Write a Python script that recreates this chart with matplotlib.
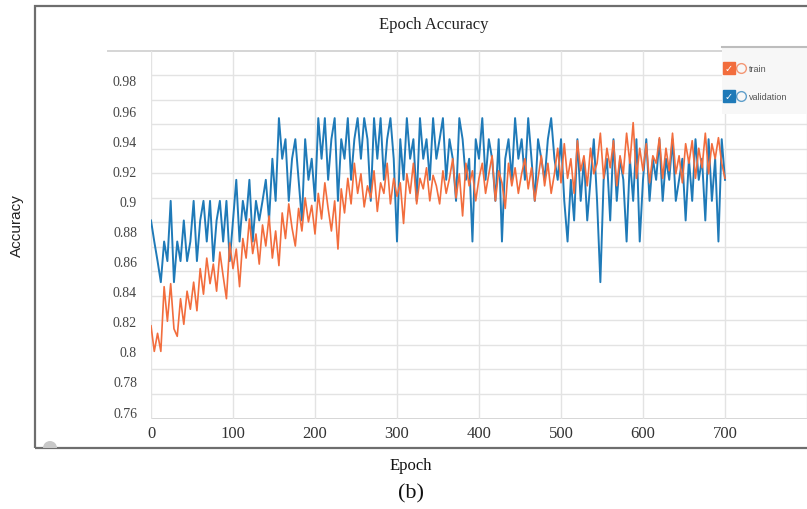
import numpy as np
import matplotlib
matplotlib.use('Agg')
import matplotlib.pyplot as plt
from matplotlib.patches import Rectangle, Wedge
from matplotlib.lines import Line2D
from matplotlib.transforms import IdentityTransform

epochs = np.arange(0, 701, 4)

validation = [
    0.887, 0.873, 0.860, 0.846, 0.873, 0.860, 0.900, 0.846, 0.873, 0.860, 0.887, 0.860, 0.873,
    0.900, 0.860, 0.887, 0.900, 0.873, 0.900, 0.860, 0.887, 0.900, 0.873, 0.900, 0.860, 0.887,
    0.914, 0.873, 0.900, 0.887, 0.914, 0.873, 0.900, 0.887, 0.900, 0.914, 0.887, 0.928, 0.900,
    0.955, 0.928, 0.941, 0.900, 0.928, 0.941, 0.914, 0.887, 0.941, 0.914, 0.928, 0.900,
    0.955, 0.928, 0.955, 0.914, 0.941, 0.955, 0.900, 0.941, 0.928, 0.955, 0.914, 0.941,
    0.955, 0.928, 0.955, 0.941, 0.900, 0.955, 0.928, 0.955, 0.914, 0.941, 0.955, 0.928, 0.873,
    0.941, 0.914, 0.955, 0.928, 0.941, 0.900, 0.955, 0.928, 0.941, 0.914, 0.955, 0.928,
    0.941, 0.955, 0.914, 0.941, 0.928, 0.900, 0.955, 0.941, 0.914, 0.928, 0.873, 0.941, 0.928,
    0.955, 0.914, 0.941, 0.928, 0.900, 0.941, 0.873, 0.928, 0.941, 0.914, 0.955, 0.928,
    0.941, 0.914, 0.955, 0.928, 0.900, 0.941, 0.928, 0.914, 0.941, 0.955, 0.928, 0.914, 0.941,
    0.900, 0.873, 0.914, 0.887, 0.941, 0.900, 0.928, 0.887, 0.914, 0.941, 0.900, 0.846,
    0.914, 0.928, 0.887, 0.941, 0.900, 0.928, 0.914, 0.873, 0.928, 0.900, 0.941, 0.873, 0.914,
    0.941, 0.900, 0.928, 0.914, 0.941, 0.900, 0.928, 0.914, 0.941, 0.900, 0.914, 0.928, 0.887,
    0.928, 0.900, 0.941, 0.914, 0.928, 0.887, 0.941, 0.900, 0.928, 0.873, 0.941, 0.914,
]

train = [
    0.817, 0.800, 0.812, 0.800, 0.843, 0.820, 0.845, 0.815, 0.810, 0.835, 0.818, 0.840, 0.828,
    0.846, 0.827, 0.855, 0.838, 0.862, 0.845, 0.858, 0.840, 0.866, 0.850, 0.835, 0.872, 0.855,
    0.868, 0.843, 0.875, 0.862, 0.888, 0.865, 0.878, 0.858, 0.884, 0.870, 0.890, 0.862, 0.880,
    0.857, 0.892, 0.875, 0.898, 0.882, 0.870, 0.895, 0.880, 0.902, 0.886, 0.897, 0.878,
    0.905, 0.888, 0.912, 0.895, 0.880, 0.900, 0.868, 0.908, 0.892, 0.915, 0.898, 0.925,
    0.905, 0.918, 0.896, 0.910, 0.902, 0.920, 0.893, 0.912, 0.905, 0.925, 0.898, 0.915, 0.903,
    0.912, 0.885, 0.918, 0.905, 0.925, 0.898, 0.915, 0.908, 0.922, 0.900, 0.917, 0.910,
    0.898, 0.920, 0.905, 0.915, 0.928, 0.902, 0.918, 0.890, 0.925, 0.910, 0.920, 0.900, 0.915,
    0.925, 0.905, 0.918, 0.930, 0.900, 0.920, 0.912, 0.895, 0.925, 0.910, 0.922, 0.905,
    0.918, 0.928, 0.908, 0.922, 0.900, 0.915, 0.930, 0.910, 0.925, 0.905, 0.918, 0.935, 0.912,
    0.938, 0.915, 0.928, 0.905, 0.940, 0.920, 0.930, 0.910, 0.935, 0.918, 0.925, 0.945,
    0.915, 0.935, 0.922, 0.940, 0.910, 0.930, 0.918, 0.945, 0.925, 0.952, 0.915, 0.935, 0.920,
    0.938, 0.912, 0.930, 0.925, 0.942, 0.915, 0.935, 0.920, 0.945, 0.918, 0.930, 0.912, 0.938,
    0.925, 0.940, 0.915, 0.935, 0.922, 0.945, 0.918, 0.938, 0.928, 0.942, 0.925, 0.915,
]

yticks = [0.76, 0.78, 0.8, 0.82, 0.84, 0.86, 0.88, 0.9, 0.92, 0.94, 0.96, 0.98]
ytick_labels = ['0.76', '0.78', '0.8', '0.82', '0.84', '0.86', '0.88', '0.9', '0.92', '0.94', '0.96', '0.98']
xticks = [0, 100, 200, 300, 400, 500, 600, 700]

ORANGE = '#f26d3d'
BLUE = '#1f7ab8'
SERIF = 'Liberation Serif'
SANS = 'Liberation Sans'

W, H = 807, 510
fig = plt.figure(figsize=(W / 100, H / 100), dpi=100)

# outer frame of the screenshot
fig.add_artist(Rectangle((35 / W, 1 - 449 / H), 800 / W, 442 / H, transform=fig.transFigure,
                         fill=False, edgecolor='#6e6e6e', lw=1.6))
fig.add_artist(Wedge((50, H - 449), 7, 0, 180, transform=IdentityTransform(),
                     facecolor='#c8c8c8', edgecolor='none'))

ax = fig.add_axes([151 / W, 1 - 419.5 / H, (807 - 151) / W, (419.5 - 51.7) / H])
y0, y1 = 0.7554, 0.9998
ax.set_xlim(0, 800)
ax.set_ylim(y0, y1)
for s in ax.spines.values():
    s.set_visible(False)

# grid of the original (not tied to the tick labels)
for g in np.linspace(y0, y1, 16)[1:-1]:
    ax.axhline(g, color='#e3e3e3', lw=1, zorder=0)
ax.axhline(y0, color='#cfcfcf', lw=1.2, zorder=0)
ax.axhline(y1, xmin=-0.066, xmax=1, color='#d5d5d5', lw=1.4, zorder=0, clip_on=False)
for xv in range(0, 801, 100):
    ax.axvline(xv, color='#e3e3e3', lw=1, zorder=0)

ax.plot(epochs, validation, color=BLUE, lw=1.4, zorder=2)
ax.plot(epochs, train, color=ORANGE, lw=1.2, zorder=3)

ax.set_yticks(yticks)
ax.set_yticklabels(ytick_labels, fontfamily=SERIF, fontsize=10, color='#444444')
ax.set_xticks(xticks)
ax.set_xticklabels([str(v) for v in xticks], fontfamily=SERIF, fontsize=12, color='#333333')
ax.tick_params(axis='y', length=0, pad=10)
ax.tick_params(axis='x', length=0, pad=5)

fig.text(434 / W, 1 - 25 / H, 'Epoch Accuracy', ha='center', va='center',
         fontfamily=SERIF, fontsize=12, color='#222222')
fig.text(17 / W, 1 - 226 / H, 'Accuracy', ha='center', va='center', rotation=90,
         fontfamily=SANS, fontsize=11, color='#222222')
fig.text(411 / W, 1 - 466 / H, 'Epoch', ha='center', va='center',
         fontfamily=SERIF, fontsize=12, color='#111111')
fig.text(411 / W, 1 - 494 / H, '(b)', ha='center', va='center',
         fontfamily=SERIF, fontsize=16, color='#111111')

# legend panel like the TensorBoard one
fig.add_artist(Rectangle((722 / W, 1 - 115 / H), 90 / W, 67 / H, transform=fig.transFigure,
                         facecolor='#f7f7f7', edgecolor='none', zorder=3))
fig.add_artist(Line2D([722 / W, 1], [1 - 48 / H, 1 - 48 / H], transform=fig.transFigure,
                      color='#bdbdbd', lw=1.5, zorder=4))
for yy, col, lab in [(69, ORANGE, 'train'), (97, BLUE, 'validation')]:
    fig.add_artist(Line2D([729 / W], [1 - yy / H], transform=fig.transFigure, marker='s',
                          markersize=8, color=col, zorder=5))
    fig.text(729 / W, 1 - yy / H, '\u2713', ha='center', va='center', color='white',
             fontsize=7, fontweight='bold', zorder=6)
    fig.add_artist(Line2D([741 / W], [1 - yy / H], transform=fig.transFigure, marker='o',
                          markersize=7, markerfacecolor='none', markeredgecolor=col,
                          markeredgewidth=1, alpha=0.7, zorder=5))
    fig.text(749 / W, 1 - yy / H, lab, ha='left', va='center', fontfamily=SANS,
             fontsize=6.5, color='#555555', zorder=6)

fig.savefig('out.png', dpi=100)
